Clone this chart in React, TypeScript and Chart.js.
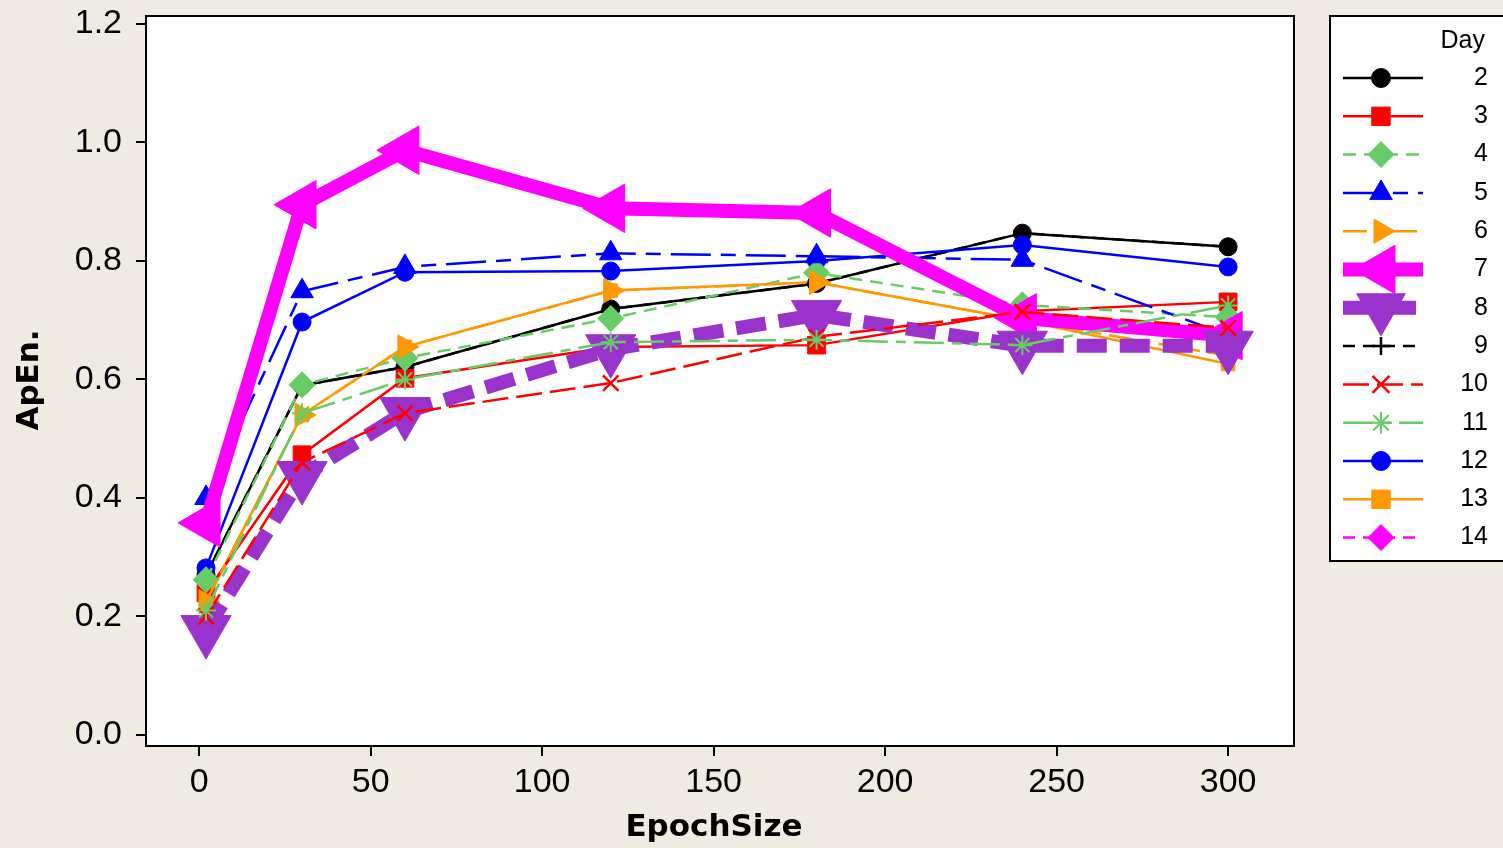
import React, { useEffect, useRef } from 'react';
import { Chart, registerables } from 'chart.js';
import { drawPoint } from 'chart.js/helpers';

Chart.register(...registerables);

// ---- data ----
const epochSizes = [2, 30, 60, 120, 180, 240, 300];
const dayLabels = ['2', '3', '4', '5', '6', '7', '8', '9', '10', '11', '12', '13', '14'];

const day2 = [0.27, 0.59, 0.621, 0.719, 0.762, 0.847, 0.824];
const day3 = [0.24, 0.473, 0.602, 0.655, 0.658, 0.715, 0.731];
const day4 = [0.262, 0.591, 0.636, 0.703, 0.78, 0.726, 0.705];
const day5 = [0.4, 0.749, 0.79, 0.813, 0.808, 0.802, 0.675];
const day6 = [0.225, 0.54, 0.655, 0.75, 0.764, 0.7, 0.64];
const day7 = [0.358, 0.895, 0.987, 0.889, 0.881, 0.704, 0.674];
const day8 = [0.177, 0.437, 0.545, 0.651, 0.709, 0.657, 0.657];
const day9 = [0.27, 0.59, 0.621, 0.719, 0.762, 0.847, 0.824];
const day10 = [0.2, 0.46, 0.543, 0.594, 0.672, 0.714, 0.687];
const day11 = [0.21, 0.543, 0.6, 0.663, 0.667, 0.658, 0.725];
const day12 = [0.282, 0.697, 0.781, 0.783, 0.8, 0.827, 0.79];
const day13 = [0.225, 0.54, 0.655, 0.75, 0.764, 0.7, 0.626];
const day14 = [0.358, 0.895, 0.987, 0.889, 0.881, 0.704, 0.674];

const xTickValues = [0, 50, 100, 150, 200, 250, 300];
const yTickValues = [0, 0.2, 0.4, 0.6, 0.8, 1.0, 1.2];

const xAxisTitle = 'EpochSize';
const yAxisTitle = 'ApEn.';
const legendTitle = 'Day';

// ---- styles ----
const BG = '#EFEBE0';
const FONT = '"Liberation Sans", Arial, sans-serif';
const TITLE_FONT = '"DejaVu Sans", Verdana, sans-serif';

type SeriesStyle = {
  color: string;
  width: number;
  dash: number[];
  pointStyle: string;
  rotation: number;
  radius: number;
  legendRadius: number;
  pbw: number;
};

const styles: SeriesStyle[] = [
  { color: '#000000', width: 2.5, dash: [], pointStyle: 'circle', rotation: 0, radius: 9, legendRadius: 9.5, pbw: 1 },
  { color: '#FF0000', width: 2.5, dash: [], pointStyle: 'rect', rotation: 0, radius: 12.5, legendRadius: 13, pbw: 1 },
  { color: '#66CC66', width: 2.5, dash: [13, 8], pointStyle: 'rectRot', rotation: 0, radius: 13, legendRadius: 13, pbw: 1 },
  { color: '#0000FF', width: 2.5, dash: [40, 10, 15, 10], pointStyle: 'triangle', rotation: 0, radius: 13, legendRadius: 13, pbw: 1 },
  { color: '#FF9900', width: 2.5, dash: [24, 8, 10, 8], pointStyle: 'triangle', rotation: 90, radius: 14, legendRadius: 14, pbw: 1 },
  { color: '#FF00FF', width: 14, dash: [], pointStyle: 'triangle', rotation: -90, radius: 28, legendRadius: 28, pbw: 1 },
  { color: '#9933CC', width: 14, dash: [30, 13], pointStyle: 'triangle', rotation: 180, radius: 29, legendRadius: 28, pbw: 1 },
  { color: '#000000', width: 2.5, dash: [12, 8], pointStyle: 'cross', rotation: 0, radius: 8, legendRadius: 9, pbw: 2.5 },
  { color: '#FF0000', width: 2.5, dash: [26, 8], pointStyle: 'crossRot', rotation: 0, radius: 11, legendRadius: 12, pbw: 2.5 },
  { color: '#66CC66', width: 2.5, dash: [30, 8, 10, 8], pointStyle: 'star', rotation: 0, radius: 10, legendRadius: 11, pbw: 2 },
  { color: '#0000FF', width: 2.5, dash: [], pointStyle: 'circle', rotation: 0, radius: 9, legendRadius: 9.5, pbw: 1 },
  { color: '#FF9900', width: 2.5, dash: [], pointStyle: 'rect', rotation: 0, radius: 9.5, legendRadius: 13, pbw: 1 },
  { color: '#FF00FF', width: 2.5, dash: [12, 8], pointStyle: 'rectRot', rotation: 0, radius: 12, legendRadius: 13, pbw: 1 },
];

// drawing sequence (first = bottom), by index into dayLabels
const drawSequence = [11, 7, 0, 10, 1, 2, 3, 4, 12, 5, 6, 8, 9];

const seriesValues = [day2, day3, day4, day5, day6, day7, day8, day9, day10, day11, day12, day13, day14];

const chromePlugin = {
  id: 'chrome',
  beforeDraw(chart: any) {
    const { ctx, chartArea: a } = chart;
    ctx.save();
    ctx.fillStyle = BG;
    ctx.fillRect(0, 0, chart.width, chart.height);
    ctx.fillStyle = '#FFFFFF';
    ctx.fillRect(a.left, a.top, a.right - a.left, a.bottom - a.top);
    ctx.restore();
  },
  afterDraw(chart: any) {
    const { ctx, chartArea: a } = chart;
    ctx.save();
    // plot frame
    ctx.strokeStyle = '#000';
    ctx.lineWidth = 2;
    ctx.setLineDash([]);
    ctx.strokeRect(a.left, a.top, a.right - a.left, a.bottom - a.top);

    // axis titles
    ctx.fillStyle = '#000';
    ctx.font = `bold 31px ${TITLE_FONT}`;
    ctx.textAlign = 'center';
    ctx.textBaseline = 'middle';
    ctx.fillText(xAxisTitle, 714, 828);
    ctx.save();
    ctx.translate(30, 380);
    ctx.rotate(-Math.PI / 2);
    ctx.fillText(yAxisTitle, 0, 0);
    ctx.restore();

    // legend box
    ctx.fillStyle = '#FFFFFF';
    ctx.fillRect(1330, 16, 190, 545);
    ctx.strokeStyle = '#000';
    ctx.lineWidth = 2;
    ctx.strokeRect(1330, 16, 190, 545);

    ctx.fillStyle = '#000';
    ctx.font = `25px ${FONT}`;
    ctx.textAlign = 'right';
    ctx.textBaseline = 'middle';
    ctx.fillText(legendTitle, 1485, 41);

    dayLabels.forEach((lab, i) => {
      const s = styles[i];
      const y = 78 + i * 38.3;
      ctx.save();
      ctx.strokeStyle = s.color;
      ctx.lineWidth = s.width;
      ctx.lineCap = 'butt';
      ctx.setLineDash(s.dash);
      ctx.beginPath();
      ctx.moveTo(1343, y);
      ctx.lineTo(1423, y);
      ctx.stroke();
      ctx.setLineDash([]);
      ctx.fillStyle = s.color;
      ctx.strokeStyle = s.color;
      ctx.lineWidth = s.pbw;
      drawPoint(ctx, { pointStyle: s.pointStyle, rotation: s.rotation, radius: s.legendRadius, borderWidth: s.pbw } as any, 1381, y);
      ctx.restore();
      ctx.fillStyle = '#000';
      ctx.font = `25px ${FONT}`;
      ctx.textAlign = 'right';
      ctx.textBaseline = 'middle';
      ctx.fillText(lab, 1488, y);
    });
    ctx.restore();
  },
};

export default function App() {
  const canvasRef = useRef<HTMLCanvasElement | null>(null);

  useEffect(() => {
    const canvas = canvasRef.current;
    if (!canvas) return;
    const datasets = seriesValues.map((vals, i) => {
      const s = styles[i];
      const seqPos = drawSequence.indexOf(i);
      return {
        label: dayLabels[i],
        data: vals.map((v, j) => ({ x: epochSizes[j], y: v })),
        borderColor: s.color,
        backgroundColor: s.color,
        borderWidth: s.width,
        borderDash: s.dash,
        borderCapStyle: 'butt',
        borderJoinStyle: 'miter',
        pointStyle: s.pointStyle,
        pointRotation: s.rotation,
        pointRadius: s.radius,
        pointHoverRadius: s.radius,
        pointBackgroundColor: s.color,
        pointBorderColor: s.color,
        pointBorderWidth: s.pbw,
        tension: 0,
        fill: false,
        clip: false,
        order: -seqPos,
      };
    });

    const chart = new Chart(canvas, {
      type: 'line',
      data: { datasets: datasets as any },
      plugins: [chromePlugin],
      options: {
        responsive: false,
        animation: false,
        events: [],
        layout: { autoPadding: false, padding: { top: 16, right: 209, left: 0, bottom: 0 } },
        plugins: { legend: { display: false }, tooltip: { enabled: false }, title: { display: false } },
        scales: {
          x: {
            type: 'linear',
            min: -15.5,
            max: 319.2,
            afterFit: (scale: any) => {
              scale.height = 102;
              scale.paddingLeft = 0;
              scale.paddingRight = 0;
            },
            afterBuildTicks: (scale: any) => { scale.ticks = xTickValues.map((v) => ({ value: v })); },
            grid: { display: true, drawOnChartArea: false, drawTicks: true, tickLength: 10, color: '#000', lineWidth: 2 },
            border: { display: false },
            ticks: {
              color: '#000',
              font: { family: FONT, size: 34 },
              padding: 6,
              maxRotation: 0,
              autoSkip: false,
              callback: (v: any) => String(v),
            },
          },
          y: {
            type: 'linear',
            min: -0.0186,
            max: 1.2135,
            afterFit: (scale: any) => {
              scale.width = 146;
              scale.paddingTop = 0;
              scale.paddingBottom = 0;
            },
            afterBuildTicks: (scale: any) => { scale.ticks = yTickValues.map((v) => ({ value: v })); },
            grid: { display: true, drawOnChartArea: false, drawTicks: true, tickLength: 10, color: '#000', lineWidth: 2 },
            border: { display: false },
            ticks: {
              color: '#000',
              font: { family: FONT, size: 34 },
              padding: 14,
              autoSkip: false,
              callback: (v: any) => Number(v).toFixed(1),
            },
          },
        },
      } as any,
    });
    return () => chart.destroy();
  }, []);

  return (
    <div style={{ position: 'absolute', left: 0, top: 0, width: 1503, height: 848, background: BG, overflow: 'hidden' }}>
      <canvas ref={canvasRef} width={1503} height={848} style={{ display: 'block' }} />
    </div>
  );
}
